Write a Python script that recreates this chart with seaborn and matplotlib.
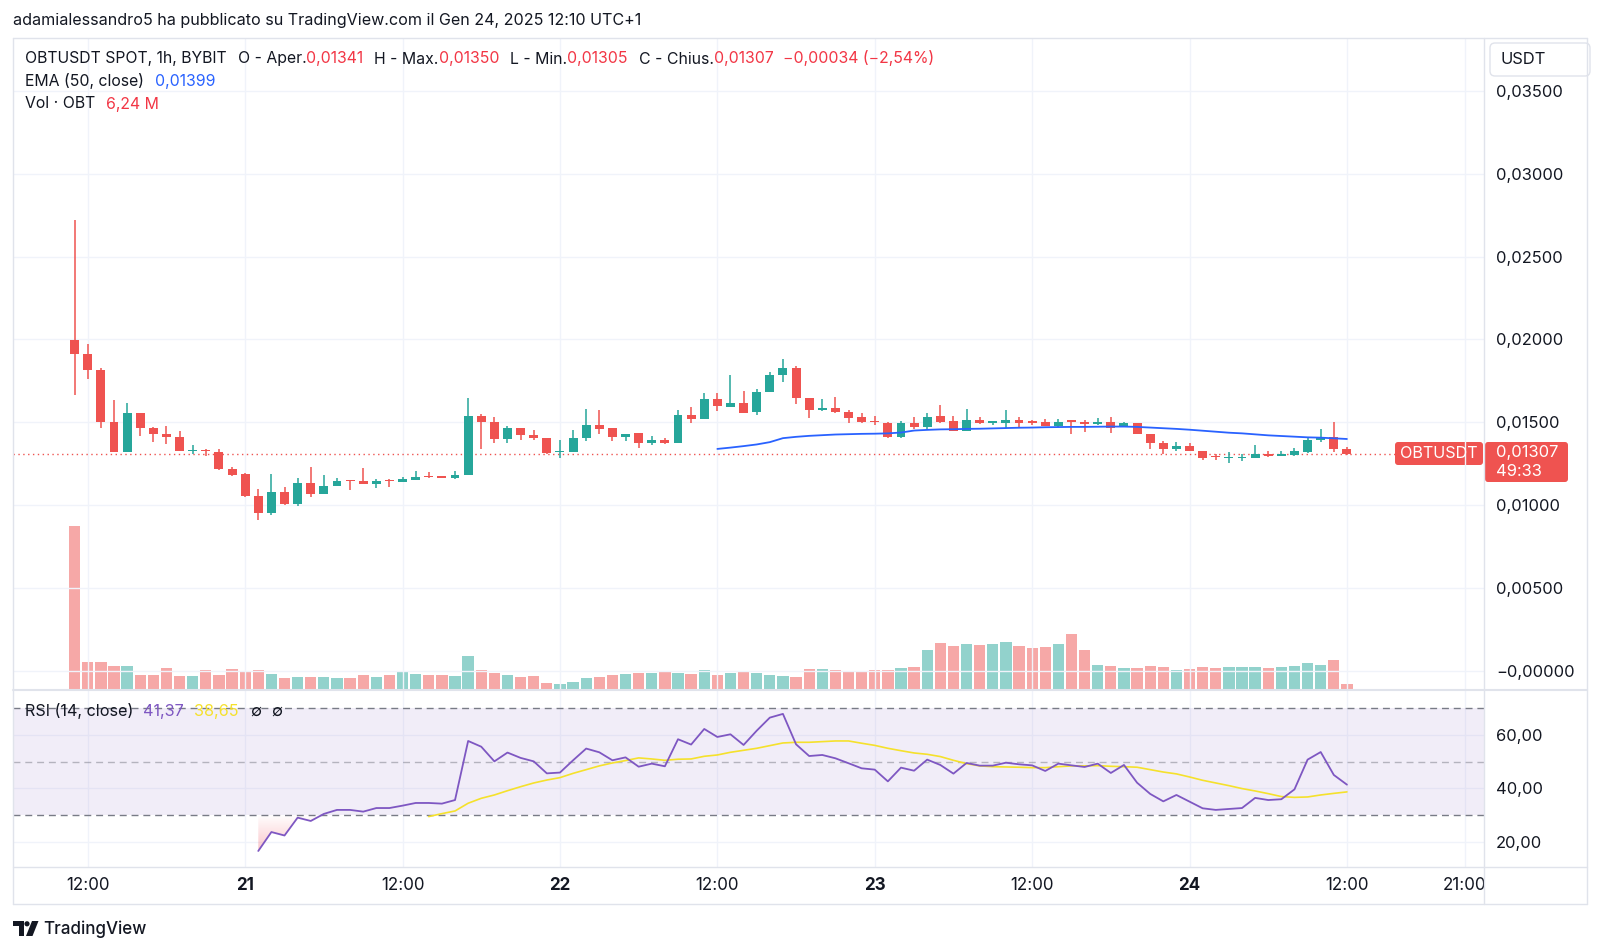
import numpy as np
import matplotlib
matplotlib.use("Agg")
import matplotlib.pyplot as plt
import seaborn as sns
from matplotlib.patches import FancyBboxPatch, Polygon, Circle
from matplotlib.lines import Line2D
from matplotlib.colors import LinearSegmentedColormap

# ---------------- data (hourly candles, Jan 20 11:00 -> Jan 24 12:00) ----------------
opens = [0.01996, 0.01915, 0.01816, 0.01502, 0.01321, 0.01556, 0.01468, 0.01429, 0.01411, 0.01327,
         0.01335, 0.01323, 0.01218, 0.01185, 0.01052, 0.00954, 0.01081, 0.01004, 0.01133, 0.01069,
         0.01113, 0.01152, 0.01145, 0.01125, 0.01152, 0.01141, 0.01154, 0.01176, 0.01174, 0.01162,
         0.01180, 0.01539, 0.01499, 0.01396, 0.01467, 0.01426, 0.01406, 0.01321, 0.01321, 0.01406,
         0.01483, 0.01463, 0.01412, 0.01434, 0.01376, 0.01394, 0.01374, 0.01543, 0.01519, 0.01638,
         0.01594, 0.01618, 0.01560, 0.01681, 0.01786, 0.01826, 0.01646, 0.01574, 0.01584, 0.01560,
         0.01529, 0.01507, 0.01493, 0.01410, 0.01498, 0.01474, 0.01538, 0.01508, 0.01449, 0.01516,
         0.01498, 0.01494, 0.01514, 0.01506, 0.01504, 0.01478, 0.01512, 0.01502, 0.01488, 0.01502,
         0.01470, 0.01496, 0.01427, 0.01375, 0.01337, 0.01357, 0.01325, 0.01294, 0.01282, 0.01282,
         0.01286, 0.01309, 0.01298, 0.01300, 0.01321, 0.01393, 0.01413, 0.01341]
highs = [0.02724, 0.01972, 0.01827, 0.01635, 0.01619, 0.01556, 0.01472, 0.01476, 0.01448, 0.01363,
         0.01341, 0.01337, 0.01232, 0.01191, 0.01097, 0.01185, 0.01109, 0.01162, 0.01232, 0.01182,
         0.01164, 0.01152, 0.01226, 0.01156, 0.01156, 0.01172, 0.01208, 0.01202, 0.01176, 0.01206,
         0.01648, 0.01549, 0.01529, 0.01479, 0.01467, 0.01455, 0.01406, 0.01394, 0.01452, 0.01582,
         0.01574, 0.01467, 0.01432, 0.01438, 0.01416, 0.01404, 0.01574, 0.01594, 0.01679, 0.01679,
         0.01788, 0.01687, 0.01701, 0.01802, 0.01885, 0.01842, 0.01646, 0.01638, 0.01650, 0.01574,
         0.01556, 0.01535, 0.01501, 0.01509, 0.01530, 0.01554, 0.01602, 0.01540, 0.01582, 0.01532,
         0.01510, 0.01574, 0.01534, 0.01514, 0.01520, 0.01522, 0.01514, 0.01514, 0.01524, 0.01530,
         0.01504, 0.01496, 0.01427, 0.01389, 0.01381, 0.01377, 0.01327, 0.01309, 0.01321, 0.01309,
         0.01363, 0.01327, 0.01327, 0.01347, 0.01413, 0.01459, 0.01499, 0.01350]
lows = [0.01663, 0.01764, 0.01464, 0.01321, 0.01321, 0.01417, 0.01383, 0.01371, 0.01327, 0.01310,
        0.01298, 0.01210, 0.01177, 0.01048, 0.00909, 0.00938, 0.00998, 0.00994, 0.01051, 0.01069,
        0.01113, 0.01089, 0.01125, 0.01101, 0.01111, 0.01141, 0.01150, 0.01162, 0.01162, 0.01158,
        0.01180, 0.01339, 0.01372, 0.01376, 0.01392, 0.01392, 0.01311, 0.01287, 0.01321, 0.01384,
        0.01432, 0.01388, 0.01388, 0.01347, 0.01364, 0.01366, 0.01374, 0.01493, 0.01519, 0.01566,
        0.01590, 0.01558, 0.01546, 0.01681, 0.01741, 0.01610, 0.01525, 0.01570, 0.01554, 0.01495,
        0.01493, 0.01481, 0.01404, 0.01404, 0.01460, 0.01461, 0.01494, 0.01449, 0.01449, 0.01488,
        0.01486, 0.01464, 0.01474, 0.01482, 0.01478, 0.01474, 0.01429, 0.01443, 0.01484, 0.01437,
        0.01470, 0.01429, 0.01337, 0.01309, 0.01325, 0.01325, 0.01272, 0.01272, 0.01256, 0.01264,
        0.01286, 0.01292, 0.01296, 0.01298, 0.01317, 0.01381, 0.01323, 0.01305]
closes = [0.01915, 0.01816, 0.01502, 0.01321, 0.01556, 0.01468, 0.01431, 0.01411, 0.01327, 0.01333,
          0.01327, 0.01216, 0.01181, 0.01052, 0.00954, 0.01081, 0.01004, 0.01133, 0.01065, 0.01115,
          0.01147, 0.01145, 0.01125, 0.01145, 0.01145, 0.01158, 0.01172, 0.01170, 0.01166, 0.01182,
          0.01539, 0.01499, 0.01396, 0.01467, 0.01426, 0.01404, 0.01315, 0.01327, 0.01406, 0.01483,
          0.01461, 0.01412, 0.01432, 0.01376, 0.01394, 0.01376, 0.01543, 0.01519, 0.01638, 0.01596,
          0.01618, 0.01558, 0.01681, 0.01788, 0.01826, 0.01646, 0.01574, 0.01586, 0.01560, 0.01527,
          0.01499, 0.01501, 0.01410, 0.01493, 0.01474, 0.01534, 0.01504, 0.01449, 0.01512, 0.01494,
          0.01504, 0.01514, 0.01498, 0.01498, 0.01478, 0.01504, 0.01502, 0.01490, 0.01502, 0.01465,
          0.01496, 0.01429, 0.01377, 0.01337, 0.01357, 0.01325, 0.01286, 0.01288, 0.01288, 0.01288,
          0.01309, 0.01296, 0.01309, 0.01325, 0.01393, 0.01409, 0.01341, 0.01307]
volumes_m = [203.8, 34.1, 33.4, 28.4, 29.1, 17.5, 17.9, 26.6, 16.6, 16.6,
             23.8, 17.5, 25.0, 20.9, 23.8, 19.1, 13.8, 15.0, 15.4, 14.6,
             13.8, 13.8, 17.9, 15.4, 17.9, 22.9, 19.1, 17.5, 17.9, 16.3,
             41.6, 24.1, 20.0, 17.9, 15.4, 16.3, 7.5, 6.3, 8.8, 13.8,
             15.4, 17.9, 19.1, 20.0, 20.0, 22.9, 20.4, 19.1, 23.8, 17.1,
             20.0, 20.9, 19.6, 17.5, 16.6, 15.0, 25.0, 25.0, 23.8, 20.9,
             22.5, 23.8, 23.8, 25.9, 27.9, 49.1, 57.9, 53.4, 56.3, 55.4,
             56.3, 58.8, 53.8, 50.9, 52.5, 56.3, 68.8, 49.1, 30.0, 28.8,
             26.3, 25.9, 28.4, 27.5, 24.1, 25.0, 27.9, 26.3, 27.1, 27.1,
             27.1, 26.3, 27.1, 28.8, 32.5, 29.6, 36.3, 6.24]

ema_start = 49
ema_values = [0.01339, 0.01347, 0.01356, 0.01366, 0.01380, 0.01404, 0.01412, 0.01418, 0.01422, 0.01426,
              0.01428, 0.01430, 0.01431, 0.01433, 0.01438, 0.01450, 0.01454, 0.01457, 0.01458, 0.01460,
              0.01461, 0.01463, 0.01465, 0.01467, 0.01468, 0.01470, 0.01471, 0.01472, 0.01472, 0.01473,
              0.01474, 0.01474, 0.01472, 0.01468, 0.01464, 0.01460, 0.01455, 0.01449, 0.01443, 0.01437,
              0.01433, 0.01427, 0.01421, 0.01417, 0.01413, 0.01409, 0.01407, 0.01403, 0.01399]

rsi_start = 14
rsi_values = [16.5, 23.6, 22.3, 29.0, 27.75, 30.4, 31.9, 31.9, 31.25, 32.6,
              32.6, 33.5, 34.5, 34.5, 34.25, 35.6, 57.75, 55.6, 50.1, 53.4,
              51.4, 50.1, 45.6, 45.9, 50.5, 54.9, 53.5, 50.5, 51.6, 48.1,
              49.25, 48.25, 58.4, 56.4, 62.25, 59.25, 60.25, 56.25, 61.6, 66.5,
              67.9, 56.5, 52.1, 52.5, 51.25, 49.4, 47.5, 47.0, 42.6, 47.75,
              46.6, 50.75, 48.75, 45.5, 49.5, 48.5, 48.5, 49.6, 49.0, 48.6,
              46.5, 49.25, 48.6, 48.0, 49.25, 45.75, 48.75, 42.1, 37.9, 35.1,
              37.5, 35.0, 32.5, 31.9, 32.25, 32.6, 36.4, 35.6, 35.9, 39.6,
              50.75, 53.6, 45.0, 41.37]

rsi_ma_start = 27
rsi_ma_values = [29.4, 30.5, 31.5, 34.4, 36.25, 37.5, 39.1, 40.6, 42.0, 43.1,
                 44.0, 45.6, 47.0, 48.4, 49.5, 50.4, 51.4, 51.0, 50.5, 50.9,
                 51.0, 52.0, 52.5, 53.5, 54.25, 55.0, 56.0, 57.0, 57.25, 57.25,
                 57.5, 57.75, 57.75, 56.9, 56.1, 55.0, 54.1, 53.25, 52.75, 51.9,
                 50.5, 49.25, 48.4, 48.1, 48.0, 47.9, 47.75, 47.75, 48.1, 48.4,
                 48.4, 48.5, 48.25, 48.1, 47.9, 47.0, 46.1, 45.4, 44.25, 43.0,
                 42.0, 41.0, 39.9, 39.0, 38.0, 36.9, 36.6, 36.75, 37.5, 38.1,
                 38.65]

x_tick_pos = [1, 13, 25, 37, 49, 61, 73, 85, 97, 106]
x_tick_labels = ["12:00", "21", "12:00", "22", "12:00", "23", "12:00", "24", "12:00", "21:00"]
bold_labels = {"21", "22", "23", "24"}
price_ticks = [0.0, 0.005, 0.010, 0.015, 0.020, 0.025, 0.030, 0.035]
price_tick_labels = ["\u22120,00000", "0,00500", "0,01000", "0,01500", "0,02000",
                     "0,02500", "0,03000", "0,03500"]
rsi_ticks = [20, 40, 60]
rsi_tick_labels = ["20,00", "40,00", "60,00"]

title_text = "adamialessandro5 ha pubblicato su TradingView.com il Gen 24, 2025 12:10 UTC+1"

# ---------------- style ----------------
GRID = '#f0f3fa'
BORDER = '#e0e3eb'
TXT = '#131722'
UP = '#26a69a'
DN = '#ef5350'
RED_T = '#f23645'
BLUE = '#2962ff'
PURPLE = '#7e57c2'
YELLOW = '#f5e12c'

sns.set_theme(style="white")
plt.rcParams['font.family'] = ['Inter', 'DejaVu Sans']

W, H = 1600, 952
fig = plt.figure(figsize=(16, 9.52), dpi=100)
fig.patch.set_facecolor('white')
IT = fig.dpi_scale_trans


def P(x, y):
    return (x / 100.0, (H - y) / 100.0)


def px2pt(p):
    return p * 0.72


L, R = 13, 1484
T, BM, BR = 37.7, 690, 867
ax = fig.add_axes([L / W, 1 - BM / H, (R - L) / W, (BM - T) / H])
axv = ax.twinx()
axr = fig.add_axes([L / W, 1 - BR / H, (R - L) / W, (BR - BM) / H], sharex=ax)
ax.set_zorder(axv.get_zorder() + 1)
ax.patch.set_visible(False)

O = np.array(opens); Hh = np.array(highs); Lw = np.array(lows); C = np.array(closes)
n = len(O)
xi = np.arange(n)
up = C >= O
col = np.where(up, UP, DN)

# volume
axv.bar(xi, volumes_m, width=0.86, color=col, alpha=0.5, linewidth=0)
axv.set_ylim(-1.25, 814)
axv.set_yticks([])
for s in axv.spines.values():
    s.set_visible(False)

# candles
ax.vlines(xi, Lw, Hh, colors=col, linewidth=1.1, zorder=3)
min_h = 1.3 / 16560
ax.bar(xi, np.maximum(np.abs(C - O), min_h), bottom=np.minimum(O, C), width=0.68,
       color=col, linewidth=0, zorder=4)

# EMA
sns.lineplot(x=np.arange(ema_start, ema_start + len(ema_values)), y=ema_values, ax=ax,
             color=BLUE, linewidth=1.3, zorder=5, legend=False)

# last price dotted line
ax.axhline(closes[-1], xmin=0, xmax=(1395 - L) / (R - L), color=DN, linewidth=1.0,
           linestyle=(0, (1, 2.5)), zorder=2)

YTS = px2pt(16.5)
XTS = px2pt(17)
ax.set_xlim(-4.70, 107.45)
ax.set_ylim(-0.001166, 0.03822)
ax.set_xticks(x_tick_pos)
ax.set_yticks(price_ticks)
ax.set_yticklabels(price_tick_labels)
ax.yaxis.tick_right()
ax.grid(True, color=GRID, linewidth=1)
ax.tick_params(axis='x', labelbottom=False, length=0)
ax.tick_params(axis='y', length=0, pad=px2pt(12), labelsize=YTS, labelcolor=TXT)
ax.set_xlabel(''); ax.set_ylabel('')
for s in ax.spines.values():
    s.set_visible(False)

# ---------------- RSI pane ----------------
rsi_x = np.arange(rsi_start, rsi_start + len(rsi_values))
rsi_y = np.array(rsi_values)
axr.axhspan(30, 70, color=PURPLE, alpha=0.1, linewidth=0, zorder=1)
axr.axhline(70, color='#787b86', linewidth=1, linestyle=(0, (5, 3.5)), zorder=2)
axr.axhline(50, color='#787b86', linewidth=1, alpha=0.5, linestyle=(0, (5, 3.5)), zorder=2)
axr.axhline(30, color='#787b86', linewidth=1, linestyle=(0, (5, 3.5)), zorder=2)

poly = axr.fill_between(rsi_x, rsi_y, 30, where=rsi_y < 30, interpolate=True,
                        facecolor='none', edgecolor='none')
cm = LinearSegmentedColormap.from_list('g', [(0.949, 0.212, 0.271, 0.0), (0.949, 0.212, 0.271, 0.38)])
grad = np.linspace(1, 0, 256).reshape(-1, 1)
img = axr.imshow(grad, extent=[rsi_start - 1, rsi_start + 8, 12, 30], origin='lower',
                 aspect='auto', cmap=cm, zorder=2.5, interpolation='bilinear')
img.set_clip_path(poly.get_paths()[0], transform=axr.transData)

sns.lineplot(x=np.arange(rsi_ma_start, rsi_ma_start + len(rsi_ma_values)), y=rsi_ma_values,
             ax=axr, color=YELLOW, linewidth=1.2, zorder=3, legend=False)
sns.lineplot(x=rsi_x, y=rsi_y, ax=axr, color=PURPLE, linewidth=1.3, zorder=4, legend=False)

axr.set_xlim(-4.70, 107.45)
axr.set_ylim(10.49, 76.86)
axr.set_yticks(rsi_ticks)
axr.set_yticklabels(rsi_tick_labels)
axr.yaxis.tick_right()
axr.set_xticks(x_tick_pos)
axr.set_xticklabels(x_tick_labels)
axr.grid(True, color=GRID, linewidth=1)
axr.tick_params(axis='y', length=0, pad=px2pt(12), labelsize=YTS, labelcolor=TXT)
axr.tick_params(axis='x', length=0, pad=px2pt(10), labelsize=XTS, labelcolor=TXT)
for lab in axr.get_xticklabels():
    if lab.get_text() in bold_labels:
        lab.set_fontweight('bold')
axr.set_xlabel(''); axr.set_ylabel('')
for s in axr.spines.values():
    s.set_visible(False)

# ---------------- frame lines ----------------
def fline(x0, y0, x1, y1, lw=1.0, color=BORDER):
    a, b = P(x0, y0), P(x1, y1)
    fig.add_artist(Line2D([a[0], b[0]], [a[1], b[1]], transform=IT, color=color, linewidth=lw))

fline(13, 37.7, 1587, 37.7)
fline(13, 904, 1587, 904)
fline(13, 37.7, 13, 904)
fline(1587, 37.7, 1587, 904)
fline(1484, 37.7, 1484, 904)
fline(13, 690, 1587, 690, lw=1.5)
fline(13, 867, 1587, 867)

# ---------------- texts ----------------
fig.text(*P(13, 21), title_text, transform=IT, fontsize=px2pt(16.1), color=TXT,
         va='center', ha='left')


def chain(x, y, segs, size, host):
    prev = host.text(*P(x, y), segs[0][0], transform=IT, fontsize=size, color=segs[0][1],
                     va='center', ha='left')
    for txt, c, gap in segs[1:]:
        prev = host.annotate(txt, xy=(1, 0), xycoords=prev, xytext=(px2pt(gap), 0),
                             textcoords='offset points', va='bottom', ha='left',
                             fontsize=size, color=c, annotation_clip=False)
    return prev


HFS = px2pt(15.8)
chain(25, 59, [("OBTUSDT SPOT, 1h, BYBIT", TXT, 0), ("O - Aper.", TXT, 11), ("0,01341", RED_T, 0),
               ("H - Max.", TXT, 11), ("0,01350", RED_T, 0), ("L - Min.", TXT, 11),
               ("0,01305", RED_T, 0), ("C - Chius.", TXT, 11), ("0,01307", RED_T, 0),
               ("\u22120,00034 (\u22122,54%)", RED_T, 9)], HFS, ax)
chain(25, 81, [("EMA (50, close)", TXT, 0), ("0,01399", BLUE, 11)], HFS, ax)
chain(25, 104, [("Vol \u00b7 OBT", TXT, 0), ("6,24 M", RED_T, 11)], HFS, ax)
chain(25, 711, [("RSI (14, close)", TXT, 0), ("41,37", PURPLE, 10), ("38,65", YELLOW, 10),
                ("\u2205", TXT, 12), ("\u2205", TXT, 10)], px2pt(16.2), axr)

# USDT box
b = FancyBboxPatch(P(1490, 76), 1.0, 0.33, boxstyle="round,pad=0,rounding_size=0.05",
                   transform=IT, facecolor='white', edgecolor=BORDER, linewidth=1)
fig.add_artist(b)
fig.text(*P(1501, 60), "USDT", transform=IT, fontsize=px2pt(16.5), color=TXT, va='center', ha='left')

# price tags
t1 = FancyBboxPatch(P(1395, 465), 0.88, 0.23, boxstyle="round,pad=0,rounding_size=0.03",
                    transform=IT, facecolor=DN, edgecolor='none')
fig.add_artist(t1)
fig.text(*P(1439, 454), "OBTUSDT", transform=IT, fontsize=px2pt(16.2), color='white',
         va='center', ha='center')
t2 = FancyBboxPatch(P(1485, 482), 0.83, 0.40, boxstyle="round,pad=0,rounding_size=0.03",
                    transform=IT, facecolor=DN, edgecolor='none')
fig.add_artist(t2)
fig.text(*P(1496, 453), "0,01307", transform=IT, fontsize=YTS, color='white', va='center', ha='left')
fig.text(*P(1496, 472), "49:33", transform=IT, fontsize=YTS, color='white', va='center', ha='left')

# TradingView logo + text
logo1 = Polygon([P(13, 921), P(23.5, 921), P(23.5, 936), P(18.5, 936), P(18.5, 926), P(13, 926)],
                closed=True, transform=IT, facecolor=TXT, edgecolor='none')
fig.add_artist(logo1)
fig.add_artist(Circle(P(27, 923.8), 2.6 / 100, transform=IT, facecolor=TXT, edgecolor='none'))
logo3 = Polygon([P(32, 921), P(38.5, 921), P(32.5, 936), P(26, 936)], closed=True, transform=IT,
                facecolor=TXT, edgecolor='none')
fig.add_artist(logo3)
fig.text(*P(43, 929), "TradingView", transform=IT, fontsize=px2pt(17), color=TXT,
         va='center', ha='left', fontweight='medium')

fig.savefig("out.png", dpi=100, facecolor='white')
